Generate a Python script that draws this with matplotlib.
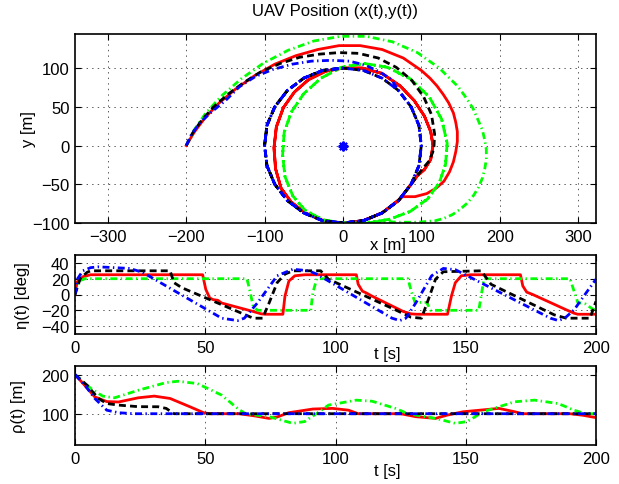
import matplotlib
matplotlib.use("Agg")
import matplotlib.pyplot as plt

plt.rcParams['font.family'] = ['Liberation Sans', 'DejaVu Sans']
plt.rcParams['lines.scale_dashes'] = False

# ---- top panel: UAV position ----
# standoff circle (r = 100 m), clockwise from the top
circle_x = [0, 26, 50, 71, 87, 97, 100, 97, 87, 71, 50, 26, 0, -26, -50, -71, -87, -97, -100, -97, -87, -71, -50, -26, 0]
circle_y = [100, 97, 87, 71, 50, 26, 0, -26, -50, -71, -87, -97, -100, -97, -87, -71, -50, -26, 0, 26, 50, 71, 87, 97, 100]

red_spiral_x = [-200, -190, -176, -158, -137, -113, -87, -60, -32, -5, 22, 50, 77, 100, 111, 120, 128, 135,
                141, 144, 146, 146, 144, 141, 136, 129, 119, 107, 92, 76]
red_spiral_y = [0, 17, 36, 55, 73, 90, 105, 116, 124, 129, 129, 124, 113, 97, 87, 77, 66, 55,
                42, 30, 18, 5, -8, -21, -34, -46, -55, -62, -66, -66]
red_loop_x = [-25, -48, -66, -79, -86, -88, -85, -76, -62, -44, -22, 0, 25, 50, 73, 91, 104, 112, 115, 112, 104, 95]
red_loop_y = [-97, -87, -73, -55, -30, -3, 24, 49, 69, 85, 96, 100, 100, 93, 77, 58, 38, 18, 0, -18, -31, -39]

green_spiral_x = [-200, -190, -175, -155, -130, -102, -70, -37, -3, 30, 63, 95, 123, 147, 157, 166, 172, 178, 181,
                  183, 183, 181, 178, 173, 167, 159, 150, 140, 129, 118, 96, 72, 48, 24]
green_spiral_y = [0, 20, 42, 64, 86, 106, 123, 135, 141, 141, 134, 120, 100, 76, 62, 48, 34, 20, 7,
                  -5, -18, -30, -42, -54, -64, -74, -82, -89, -94, -97, -99, -99, -98, -99]
green_loop_x = [0, -25, -48, -64, -74, -77, -75, -66, -50, -28, -2, 27, 57, 86, 110, 126, 133, 131, 123, 108, 86, 60, 32, 5]
green_loop_y = [-100, -96, -84, -65, -40, -12, 17, 43, 67, 87, 101, 106, 101, 86, 63, 34, 3, -24, -48, -69, -85, -95, -100, -100]

black_spiral_x = [-200, -192, -180, -165, -147, -127, -105, -80, -55, -30, -5, 20, 45, 68, 88, 103, 113, 117, 116, 110, 100]
black_spiral_y = [0, 16, 33, 50, 66, 81, 95, 106, 114, 118, 120, 119, 113, 101, 84, 63, 40, 15, -5, -20, -32]

blue_spiral_x = [-200, -193, -182, -167, -150, -132, -112, -90, -65, -40, -15, 8, 28, 47, 62]
blue_spiral_y = [0, 15, 30, 44, 58, 76, 89, 98, 105, 109, 110, 109, 104, 95, 85]

# ---- middle panel: eta(t) [deg] ----
t_eta_red = [0, 0.8, 3, 6, 49, 50.2, 51.7, 53, 54.8, 56.3, 68.4, 71.5, 73, 79.8, 80.6, 82.1, 84.4, 88.2, 108, 108.7, 110.3, 111.8, 114, 126, 129, 131, 143, 144.5, 146, 148.3, 152, 171, 171.9, 173.4, 175.7, 188.6, 191.6, 193, 200]
eta_red = [0, 16, 22.5, 25, 25, 6.5, -4.3, -6.5, -7.3, -10.8, -21.5, -24.5, -25, -25, -2, 17, 23.7, 25, 25, 13, 4.3, 2, -2, -21.5, -24.5, -25, -25, -2, 15, 23.7, 25, 25, 10.8, 3, 0, -19.4, -23.7, -25, -25]
t_eta_green = [0, 1.5, 3.8, 66, 67, 68.4, 70, 90.5, 91.3, 92.8, 127.8, 129, 130.5, 135, 136.5, 155, 156, 157, 190, 191.5, 193, 196, 198.5, 200]
eta_green = [0, 17, 20, 20, 6.5, -15, -20, -20, 2, 20, 20, 5, -10, -10, -20, -20, 0, 20, 20, 5, -10, -12, -18, -20]
t_eta_black = [0, 2, 4.6, 6, 36.5, 38, 41, 62.4, 68.4, 72, 74.5, 77.6, 80.6, 83.6, 94.3, 97.3, 123, 129, 133, 135.4, 138.4, 141.4, 155.9, 159.7, 184, 188.6, 197.7, 200]
eta_black = [0, 20, 28, 30, 30, 15, 8.6, -21.5, -30, -30, -10.8, 15, 25.8, 30, 30, 19.4, -19.4, -28.8, -30, -8.6, 19.4, 28.8, 30, 12.9, -25.8, -30, -30, -8.6]
t_eta_blue = [0, 1, 3, 6, 9, 15, 21, 26, 56.3, 62.4, 65, 70, 77.6, 83.6, 89.7, 92.8, 121.7, 124.7, 127, 130.8, 136.9, 141.4, 146, 150.6, 182.5, 185.6, 188, 191.6, 196.2, 200]
eta_blue = [0, 20, 30, 34, 35, 34, 33, 28, -30, -33, -30, -10.8, 23.7, 32, 30, 25.8, -30, -33, -30, -10.8, 23.7, 33, 31.4, 23.7, -30, -33, -30, -19.4, 2, 19.4]

# ---- bottom panel: rho(t) [m] ----
t_rho_red = [0, 3, 7.6, 12.2, 16.7, 24.3, 30.4, 36.5, 44.1, 49.4, 51.7, 63, 68.4, 74.5, 77.6, 82, 91.3, 98.9, 105, 108.7, 125, 130.8, 138.4, 143, 149, 162.7, 168.8, 171.9, 190, 195, 200]
rho_red = [200, 178, 143, 131, 130, 140.7, 145, 139, 117.8, 102.5, 100, 100, 95, 88, 91.5, 102.5, 112, 113.6, 109, 100, 100, 92.4, 88, 96.6, 105, 113.6, 105, 100, 100, 96, 90]
t_rho_green = [0, 6, 10.6, 15.2, 24.3, 35, 39.5, 47, 56.3, 62.4, 65.4, 74.5, 83.6, 88.2, 92.8, 97.3, 108, 114, 123, 127.8, 138.4, 146, 150.6, 156.7, 168.8, 176.4, 185.5, 191.6, 196, 200]
rho_green = [200, 165, 145, 140.7, 160, 179.7, 183, 177, 147.5, 113.6, 100, 92.4, 75.4, 80, 100.8, 122, 134.7, 132, 113.6, 100, 88, 75.4, 80, 105, 130.5, 134.7, 126, 109, 100, 100]
t_rho_black = [0, 4.6, 9, 12.2, 16.7, 24.3, 31.9, 35, 38, 200]
rho_black = [200, 173, 139, 126, 122, 118, 117.8, 113.6, 100, 100]
t_rho_blue = [0, 3.8, 7.6, 12.2, 16.7, 22.8, 200]
rho_blue = [200, 173, 139, 109, 102.5, 100, 100]

RED = '#ff0000'
GREEN = '#00ff00'
BLACK = '#000000'
BLUE = '#0000ff'
LW = 2.0
DASH = (0, (5, 3))
DASHDOT = (0, (5, 2.5, 1, 2.5))


def style(ax):
    ax.tick_params(direction='in', top=True, right=True, length=4, width=0.8,
                   labelsize=12, pad=4)
    ax.grid(True, linestyle=(0, (1, 3)), color='0.35', linewidth=0.7)
    for s in ax.spines.values():
        s.set_linewidth(1.2)


fig = plt.figure(figsize=(6.19, 4.85), dpi=100)

# top: position
ax1 = fig.add_axes([75 / 619, 1 - 224 / 485, 521 / 619, 189 / 485])
red_x = red_spiral_x + circle_x[10:13] + red_loop_x + circle_x[8:13] + red_loop_x + circle_x[8:12]
red_y = red_spiral_y + circle_y[10:13] + red_loop_y + circle_y[8:13] + red_loop_y + circle_y[8:12]
green_x = green_spiral_x + green_loop_x + green_loop_x
green_y = green_spiral_y + green_loop_y + green_loop_y
black_x = black_spiral_x + circle_x[8:] + circle_x[1:]
black_y = black_spiral_y + circle_y[8:] + circle_y[1:]
blue_x = blue_spiral_x + circle_x[3:] + circle_x[1:]
blue_y = blue_spiral_y + circle_y[3:] + circle_y[1:]
ax1.plot(red_x, red_y, color=RED, lw=LW)
ax1.plot(green_x, green_y, color=GREEN, lw=LW, linestyle=DASHDOT)
ax1.plot(black_x, black_y, color=BLACK, lw=LW, linestyle=DASH)
ax1.plot(blue_x, blue_y, color=BLUE, lw=LW, linestyle=DASHDOT)
# target marker (MATLAB-style asterisk)
ax1.plot([0], [0], marker=(8, 2, 0), color=BLUE, markersize=7, markeredgewidth=1.5, linestyle='none')
ax1.set_xlim(-342, 323)
ax1.set_ylim(-100, 144)
ax1.set_xticks([-300, -200, -100, 0, 100, 200, 300])
ax1.set_yticks([-100, -50, 0, 50, 100])
style(ax1)
ax1.set_title('UAV Position (x(t),y(t))', fontsize=12, pad=14)
ax1.set_xlabel('x [m]', fontsize=12)
ax1.set_ylabel('y [m]', fontsize=12)
ax1.xaxis.set_label_coords(0.6, -0.072)
ax1.yaxis.set_label_coords(-0.075, 0.5)

# middle: eta
ax2 = fig.add_axes([75 / 619, 1 - 335 / 485, 521 / 619, 79 / 485])
ax2.plot(t_eta_red, eta_red, color=RED, lw=LW)
ax2.plot(t_eta_green, eta_green, color=GREEN, lw=LW, linestyle=DASHDOT)
ax2.plot(t_eta_black, eta_black, color=BLACK, lw=LW, linestyle=DASH)
ax2.plot(t_eta_blue, eta_blue, color=BLUE, lw=LW, linestyle=DASHDOT)
ax2.set_xlim(0, 200)
ax2.set_ylim(-50, 50)
ax2.set_xticks([0, 50, 100, 150, 200])
ax2.set_yticks([-40, -20, 0, 20, 40])
style(ax2)
ax2.set_xlabel('t [s]', fontsize=12)
ax2.set_ylabel('η(t) [deg]', fontsize=12)
ax2.xaxis.set_label_coords(0.6, -0.15)
ax2.yaxis.set_label_coords(-0.086, 0.5)

# bottom: rho
ax3 = fig.add_axes([75 / 619, 1 - 446 / 485, 521 / 619, 79 / 485])
ax3.plot(t_rho_red, rho_red, color=RED, lw=LW)
ax3.plot(t_rho_green, rho_green, color=GREEN, lw=LW, linestyle=DASHDOT)
ax3.plot(t_rho_black, rho_black, color=BLACK, lw=LW, linestyle=DASH)
ax3.plot(t_rho_blue, rho_blue, color=BLUE, lw=LW, linestyle=DASHDOT)
ax3.set_xlim(0, 200)
ax3.set_ylim(20, 222)
ax3.set_xticks([0, 50, 100, 150, 200])
ax3.set_yticks([100, 200])
style(ax3)
ax3.set_xlabel('t [s]', fontsize=12)
ax3.set_ylabel('ρ(t) [m]', fontsize=12)
ax3.xaxis.set_label_coords(0.6, -0.23)
ax3.yaxis.set_label_coords(-0.094, 0.5)

fig.savefig('out.png', dpi=100)
